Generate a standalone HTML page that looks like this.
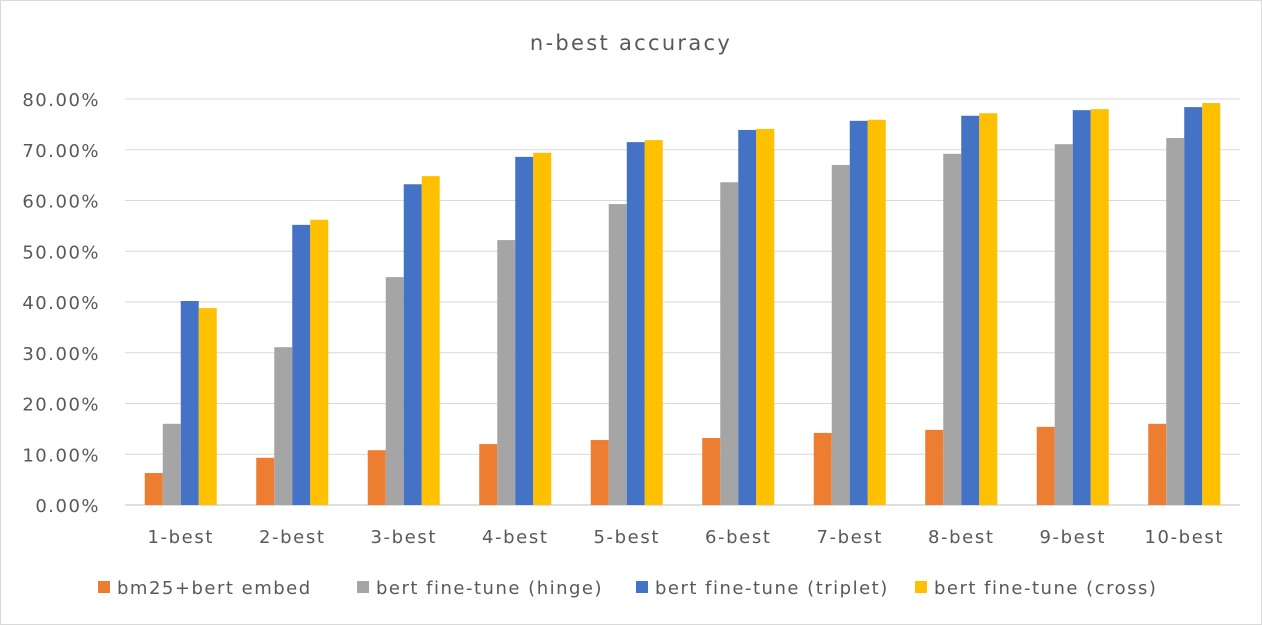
<!DOCTYPE html>
<html><head><meta charset="utf-8"><style>
body{margin:0;background:#fff;font-family:"DejaVu Sans","Liberation Sans",sans-serif;}
#wrap{position:relative;width:1262px;height:625px;overflow:hidden;}
text{font-family:"DejaVu Sans","Liberation Sans",sans-serif;}
</style></head><body>
<div id="wrap">
<svg id="chart" width="1262" height="625">
<rect x="0.5" y="0.5" width="1261" height="624" fill="#fff" stroke="#d9d9d9"/>
<text x="631" y="50" text-anchor="middle" font-size="21" letter-spacing="2.3" fill="#595959">n-best accuracy</text>
</svg>
</div>
<script>
const categories=["1-best","2-best","3-best","4-best","5-best","6-best","7-best","8-best","9-best","10-best"];
const bm25=[6.3,9.3,10.8,12.0,12.8,13.2,14.2,14.8,15.4,16.0];
const hinge=[16.0,31.1,44.9,52.2,59.3,63.6,67.0,69.2,71.1,72.3];
const triplet=[40.2,55.2,63.2,68.6,71.5,73.9,75.7,76.7,77.8,78.4];
const cross=[38.8,56.2,64.8,69.4,71.9,74.1,75.9,77.2,78.0,79.2];
const yTicks=[0,10,20,30,40,50,60,70,80];
const seriesNames=["bm25+bert embed","bert fine-tune (hinge)","bert fine-tune (triplet)","bert fine-tune (cross)"];
const series=[bm25,hinge,triplet,cross];
const colors=["#ed7d31","#a5a5a5","#4472c4","#ffc000"];
const NS="http://www.w3.org/2000/svg";
const svg=document.getElementById('chart');
const L=125,R=1240,Y0=505,Y80=99;
const y=v=>Y0-(v/80)*(Y0-Y80);
const cw=(R-L)/categories.length;
const bw=18;
function mk(t,a){const e=document.createElementNS(NS,t);for(const k in a)e.setAttribute(k,a[k]);svg.appendChild(e);return e;}
yTicks.forEach(t=>{
 const g=mk('line',{x1:L,x2:R,y1:y(t),y2:y(t),stroke:t===0?'#bfbfbf':'#d9d9d9','stroke-width':1});
 
 
 const tx=mk('text',{x:100,y:y(t)+7,'text-anchor':'end','font-size':18,'letter-spacing':1.5,fill:'#595959'});
 tx.textContent=t.toFixed(2)+'%';
 
 
});
categories.forEach((c,i)=>{
 const cx=L+cw*(i+0.5);
 series.forEach((s,j)=>{
  const r=mk('rect',{x:cx-2*bw+j*bw,y:y(s[i]),width:bw,height:Y0-y(s[i]),fill:colors[j]});
  
  
 });
 const tx=mk('text',{x:cx,y:543,'text-anchor':'middle','font-size':18,'letter-spacing':1.6,fill:'#595959'});
 tx.textContent=c;
 
 
});
const lx=[98,357,636,915];
seriesNames.forEach((n,j)=>{
 const r=mk('rect',{x:lx[j],y:581,width:12,height:12,fill:colors[j]});
 
 
 const t=mk('text',{x:lx[j]+19,y:594,'font-size':18,'letter-spacing':1.5,fill:'#595959'});
 t.textContent=n;
 
 
});
</script>
</body></html>
